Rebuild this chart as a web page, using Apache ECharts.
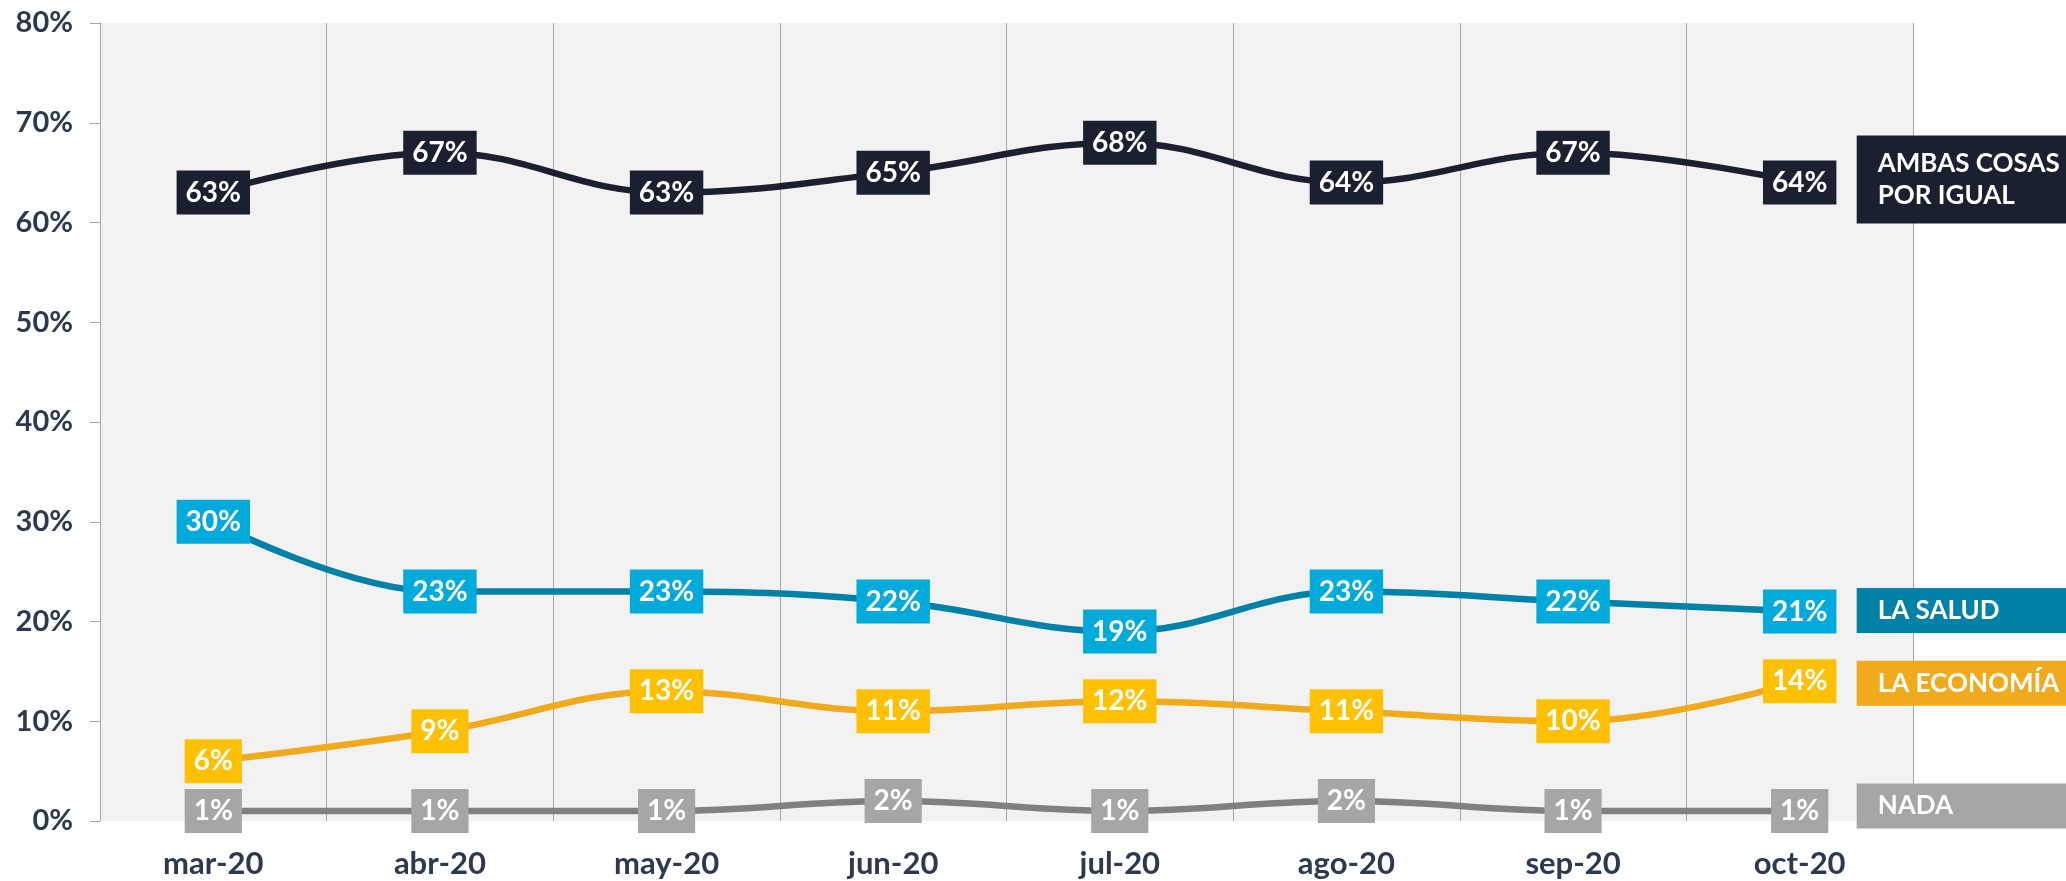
<!DOCTYPE html>
<html>
<head>
<meta charset="utf-8">
<title>Preocupación: salud vs economía</title>
<script src="https://cdn.jsdelivr.net/npm/echarts@6/dist/echarts.min.js"></script>
<style>
    html, body { margin: 0; padding: 0; background: #fff; }
    #chart { width: 2066px; height: 881px; }
</style>
</head>
<body>
<div id="chart"></div>
<script>
// meses de la encuesta
var months = ['mar-20', 'abr-20', 'may-20', 'jun-20', 'jul-20', 'ago-20', 'sep-20', 'oct-20'];

// valores en %
var ambasCosas = [63, 67, 63, 65, 68, 64, 67, 64];
var laSalud = [30, 23, 23, 22, 19, 23, 22, 21];
var laEconomia = [6, 9, 13, 11, 12, 11, 10, 14];
var nada = [1, 1, 1, 2, 1, 2, 1, 1];

var seriesNames = ['AMBAS COSAS\nPOR IGUAL', 'LA SALUD', 'LA ECONOMÍA', 'NADA'];

var chartDom = document.getElementById('chart');
var myChart = echarts.init(chartDom);
var option;

var FONT = 'Lato';
var AXIS_TEXT = '#2b3a4f';

// arma una serie de línea con etiquetas en caja y etiqueta final a la derecha
function makeSeries(name, data, lineColor, boxColor, endColor, endOffset, endLines) {
    return {
        name: name,
        type: 'line',
        data: data,
        smooth: 0.4,
        symbol: 'circle',
        symbolSize: 2,
        itemStyle: { color: lineColor },
        lineStyle: { color: lineColor, width: 6.5 },
        label: {
            show: true,
            position: 'inside',
            formatter: '{c}%',
            backgroundColor: boxColor,
            color: '#fff',
            fontFamily: FONT,
            fontWeight: 'bold',
            fontSize: 28,
            padding: [9, 9, 7, 9]
        },
        endLabel: {
            show: true,
            formatter: name,
            distance: 57,
            offset: endOffset,
            backgroundColor: endColor,
            color: '#fff',
            fontFamily: FONT,
            fontWeight: 'bold',
            fontSize: 26,
            lineHeight: 32,
            width: 200,
            align: 'left',
            padding: endLines > 1 ? [12, 10, 12, 21] : [7, 10, 6, 21]
        }
    };
}

option = {
    animation: false,
    grid: {
        left: 100,
        right: 153,
        top: 23,
        bottom: 60,
        show: true,
        backgroundColor: '#f2f2f2',
        borderWidth: 0,
        outerBoundsMode: 'none'
    },
    xAxis: {
        type: 'category',
        data: months,
        boundaryGap: true,
        axisLine: { show: false },
        axisTick: { show: false },
        splitLine: {
            show: true,
            interval: 0,
            lineStyle: { color: '#a6a6a6', width: 1 }
        },
        axisLabel: {
            interval: 0,
            margin: 27,
            color: AXIS_TEXT,
            fontFamily: FONT,
            fontWeight: 'bold',
            fontSize: 31
        }
    },
    yAxis: {
        type: 'value',
        min: 0,
        max: 80,
        interval: 10,
        axisLine: { show: true, lineStyle: { color: '#a6a6a6', width: 1 } },
        axisTick: { show: true, length: 10, lineStyle: { color: '#a6a6a6' } },
        splitLine: { show: false },
        axisLabel: {
            formatter: '{value}%',
            margin: 27,
            color: AXIS_TEXT,
            fontFamily: FONT,
            fontWeight: 'bold',
            fontSize: 29
        }
    },
    series: [
        makeSeries(seriesNames[0], ambasCosas, '#1b2030', '#1b2030', '#1b2030', [0, -3], 2),
        makeSeries(seriesNames[1], laSalud, '#0081a7', '#00abdc', '#0081a7', [0, -1], 1),
        makeSeries(seriesNames[2], laEconomia, '#f0aa1c', '#ffc000', '#f0aa1c', [0, 2], 1),
        makeSeries(seriesNames[3], nada, '#808080', '#a6a6a6', '#a6a6a6', [0, -5], 1)
    ]
};

option && myChart.setOption(option);
</script>
</body>
</html>
